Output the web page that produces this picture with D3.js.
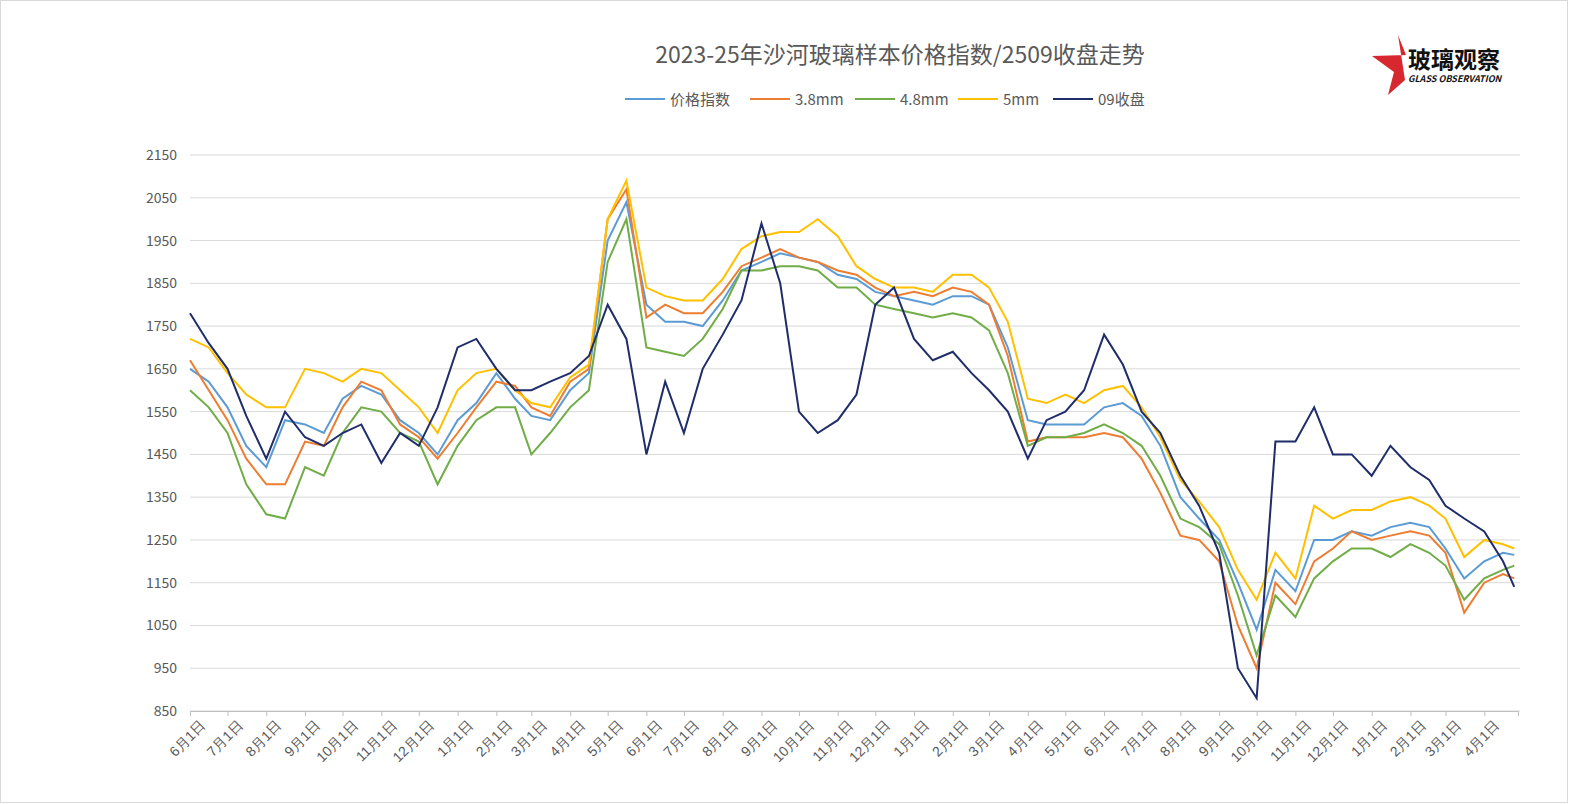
<!DOCTYPE html><html><head><meta charset="utf-8">
<script src="https://cdn.jsdelivr.net/npm/d3@7"></script>
<style>body{margin:0;background:#fff;font-family:"Noto Sans CJK SC","Noto Sans",sans-serif}</style></head><body>
<svg id="c" width="1569" height="804"></svg>
<script>
const yTicks=[850,950,1050,1150,1250,1350,1450,1550,1650,1750,1850,1950,2050,2150];
const seriesNames=["价格指数","3.8mm","4.8mm","5mm","09收盘"];
const colors=["#5b9bd5","#ed7d31","#70ad47","#ffc000","#1f2d6b"];
const idx=[1650,1620,1560,1470,1420,1530,1520,1500,1580,1610,1590,1530,1500,1450,1530,1570,1640,1580,1540,1530,1600,1640,1950,2040,1800,1760,1760,1750,1810,1880,1900,1920,1910,1900,1870,1860,1830,1820,1810,1800,1820,1820,1800,1700,1530,1520,1520,1520,1560,1570,1540,1470,1350,1300,1250,1150,1040,1180,1130,1250,1250,1270,1260,1280,1290,1280,1230,1160,1200,1220,1215];
const s38=[1670,1600,1530,1440,1380,1380,1480,1470,1560,1620,1600,1520,1490,1440,1500,1560,1620,1610,1560,1540,1620,1650,2000,2070,1770,1800,1780,1780,1830,1890,1910,1930,1910,1900,1880,1870,1840,1820,1830,1820,1840,1830,1800,1680,1480,1490,1490,1490,1500,1490,1440,1360,1260,1250,1200,1050,950,1150,1100,1200,1230,1270,1250,1260,1270,1260,1220,1080,1150,1170,1160];
const s48=[1600,1560,1500,1380,1310,1300,1420,1400,1500,1560,1550,1500,1480,1380,1470,1530,1560,1560,1450,1500,1560,1600,1900,2000,1700,1690,1680,1720,1790,1880,1880,1890,1890,1880,1840,1840,1800,1790,1780,1770,1780,1770,1740,1640,1470,1490,1490,1500,1520,1500,1470,1400,1300,1280,1240,1120,980,1120,1070,1160,1200,1230,1230,1210,1240,1220,1190,1110,1160,1180,1190];
const s5=[1720,1700,1640,1590,1560,1560,1650,1640,1620,1650,1640,1600,1560,1500,1600,1640,1650,1600,1570,1560,1630,1660,2000,2090,1840,1820,1810,1810,1860,1930,1960,1970,1970,2000,1960,1890,1860,1840,1840,1830,1870,1870,1840,1760,1580,1570,1590,1570,1600,1610,1560,1490,1390,1340,1280,1180,1110,1220,1160,1330,1300,1320,1320,1340,1350,1330,1300,1210,1250,1240,1230];
const c09=[1780,1710,1650,1540,1440,1550,1490,1470,1500,1520,1430,1500,1470,1560,1700,1720,1650,1600,1600,1620,1640,1680,1800,1720,1450,1620,1500,1650,1730,1810,1990,1850,1550,1500,1530,1590,1800,1840,1720,1670,1690,1640,1600,1550,1440,1530,1550,1600,1730,1660,1550,1500,1400,1330,1220,950,880,1480,1480,1560,1450,1450,1400,1470,1420,1390,1330,1300,1270,1200,1140];
const allSeries=[idx,s38,s48,s5,c09];
const dates=[];
for(let i=0;i<70;i++){const m=Math.floor(i/2);dates.push(new Date(2022,5+m,i%2?16:1));}
dates.push(new Date(2025,3,25));
const svg=d3.select("#c");
svg.append("rect").attr("x",0.5).attr("y",0.5).attr("width",1567).attr("height",802).attr("fill","#fff").attr("stroke","#d9d9d9");
const x=d3.scaleTime().domain([new Date(2022,5,1),new Date(2025,3,28)]).range([190,1518]);
const y=d3.scaleLinear().domain([850,2150]).range([711,155]);
const g=svg.append("g");
g.selectAll("line.g").data(yTicks).join("line").attr("x1",190).attr("x2",1520).attr("y1",d=>y(d)).attr("y2",d=>y(d)).attr("stroke","#d9d9d9");
g.selectAll("text.y").data(yTicks).join("text").attr("x",177).attr("y",d=>y(d)+5).attr("text-anchor","end").attr("font-size",14).attr("fill","#595959").text(d=>d);
const months=d3.timeMonth.range(new Date(2022,5,1),new Date(2025,4,1));
const xa=svg.append("g").attr("transform","translate(0,711)").call(d3.axisBottom(x).tickValues(months).tickSize(5).tickFormat(d=>(d.getMonth()+1)+"月1日"));
xa.select(".domain").attr("stroke","#bfbfbf");xa.selectAll("line").attr("stroke","#bfbfbf");
xa.selectAll("text").attr("font-size",14).attr("fill","#595959").attr("text-anchor","end").attr("transform","translate(4,4) rotate(-45)").attr("dy","0.6em");
const line=d3.line().x((d,i)=>x(dates[i])).y(d=>y(d));
allSeries.forEach((s,k)=>svg.append("path").attr("d",line(s)).attr("fill","none").attr("stroke",colors[k]).attr("stroke-width",2));
svg.append("text").attr("x",900).attr("y",63).attr("text-anchor","middle").attr("font-size",23).attr("fill","#595959").text("2023-25年沙河玻璃样本价格指数/2509收盘走势");
const lx=[625,750,855,958,1053];
seriesNames.forEach((n,k)=>{svg.append("line").attr("x1",lx[k]).attr("x2",lx[k]+40).attr("y1",99).attr("y2",99).attr("stroke",colors[k]).attr("stroke-width",2);
svg.append("text").attr("x",lx[k]+45).attr("y",105).attr("font-size",15).attr("fill","#595959").text(n);});
svg.append("path").attr("d","M1398,35 L1406,55 L1372,56 L1394,72 L1388,95 L1405,80 Z").attr("fill","#d7282f");
svg.append("text").attr("x",1408).attr("y",68).attr("font-size",23).attr("font-weight","bold").attr("fill","#111").text("玻璃观察");
svg.append("text").attr("x",1408).attr("y",82).attr("font-size",9).attr("font-style","italic").attr("font-weight","bold").attr("fill","#111").text("GLASS OBSERVATION");
</script></body></html>
